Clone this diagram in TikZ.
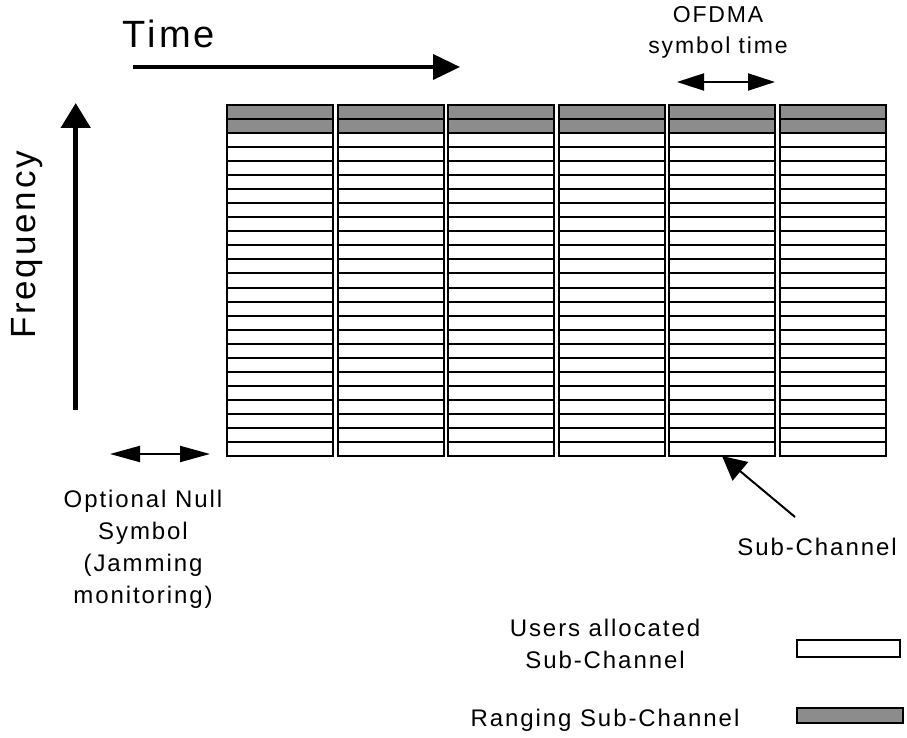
\documentclass[tikz,border=0pt]{standalone}
\usepackage{fontspec}
\setmainfont{Liberation Sans}[LetterSpace=8]
\usetikzlibrary{positioning, arrows.meta}

\begin{document}
\begin{tikzpicture}[x=1pt, y=1pt,
    celda/.style={draw, line width=2pt, fill=white, inner sep=0pt, outer sep=0pt,
      minimum width=106pt, minimum height=14.04pt},
    rango/.style={celda, fill=black!45},
    texto/.style={inner sep=0pt, align=center, font=\fontsize{24}{32}\selectfont}]
    \useasboundingbox (0,0) rectangle (907,738);
    % Subcanales de usuarios
    \foreach \c in {0,...,5} {
      \foreach \r in {0,...,22} {
        \node[celda] (c\c-\r) at (280+110.5*\c, 289.02+14.04*\r) {};
      }
    }
    % Subcanales de ranging
    \foreach \c in {0,...,5} {
      \foreach \r in {23,24} {
        \node[rango] (c\c-\r) at (280+110.5*\c, 289.02+14.04*\r) {};
      }
    }
    % Eje de tiempo
    \node[texto, font=\fontsize{38}{44}\selectfont] (tiempo) at (169,704) {Time};
    \coordinate (t0) at (133,671);
    \coordinate (t1) at (460,671);
    \draw[line width=4pt, -{Triangle[length=27pt, width=25pt]}] (t0) -- (t1);
    % Eje de frecuencia
    \node[texto, font=\fontsize{35}{40}\selectfont, rotate=90] (frec) at (27,493) {Frequency};
    \coordinate (f0) at (75.7,328);
    \coordinate (f1) at (75.7,635);
    \draw[line width=5pt, -{Triangle[length=25pt, width=29pt]}] (f0) -- (f1);
    % Simbolo nulo
    \coordinate (n0) at (110,284);
    \coordinate (n1) at (210,284);
    \draw[line width=2pt, {Triangle[length=30pt, width=16pt]}-{Triangle[length=30pt, width=16pt]}] (n0) -- (n1);
    \node[texto] (nulo) at (143,189) {Optional Null\\Symbol\\(Jamming\\monitoring)};
    % Tiempo de simbolo
    \node[texto, font=\fontsize{23}{31}\selectfont] (ofdma) at (718,706) {OFDMA\\symbol time};
    \coordinate (s0) at (677,656);
    \coordinate (s1) at (775,656);
    \draw[line width=2pt, {Triangle[length=27pt, width=17pt]}-{Triangle[length=27pt, width=17pt]}] (s0) -- (s1);
    % Subcanal
    \node[texto] (sub) at (817,191) {Sub-Channel};
    \coordinate (sc) at (795,221);
    \draw[line width=2pt, -{Triangle[length=24pt, width=24pt]}] (sc) -- (c4-0.south);
    % Leyenda
    \node[texto] (usuarios) at (605,94) {Users allocated\\Sub-Channel};
    \node[texto] (ranging) at (605,18) {Ranging Sub-Channel};
    \node[celda, minimum width=103pt, minimum height=17pt] (ley1) at (848.5,89.5) {};
    \node[rango, minimum width=106pt, minimum height=15pt] (ley2) at (850,22.5) {};
\end{tikzpicture}
\end{document}
